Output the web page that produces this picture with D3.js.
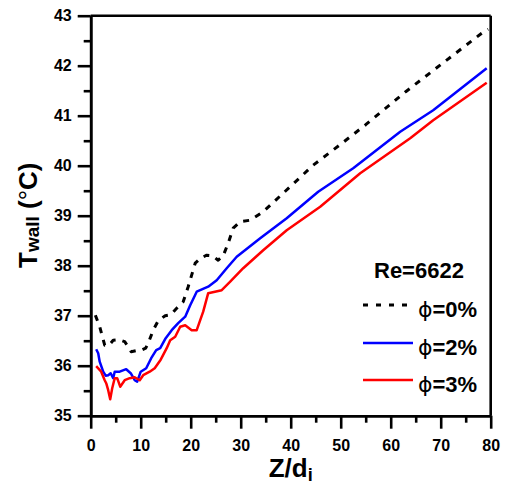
<!DOCTYPE html>
<html>
<head>
<meta charset="utf-8">
<script src="https://cdn.jsdelivr.net/npm/d3@7"></script>
<style>
  body { margin: 0; background: #fff; }
  svg { display: block; }
  text { font-family: "Liberation Sans", Arial, sans-serif; font-weight: bold; fill: #000; }
</style>
</head>
<body>
<svg width="506" height="485"></svg>
<script>
// values
const xTicks = [0, 10, 20, 30, 40, 50, 60, 70, 80];
const yTicks = [35, 36, 37, 38, 39, 40, 41, 42, 43];

const z0 = [0.93, 1.8, 2.8, 3.6, 4.5, 5.7, 6.8, 7.5, 8.1, 9.0, 10.1, 11.0, 11.5, 12.5, 13.5, 14.9, 16.0, 17.2, 18.5, 19.5, 20.9, 22.0, 23.2, 24.3, 25.5, 26.5, 27.5, 28.5, 29.9, 31.9, 34.5, 38.5, 44.5, 50, 55, 63, 70, 78.2, 79.5];
const t0 = [37.01, 36.78, 36.41, 36.40, 36.51, 36.52, 36.48, 36.38, 36.28, 36.30, 36.31, 36.35, 36.45, 36.71, 36.90, 37.00, 37.02, 37.15, 37.28, 37.58, 38.05, 38.15, 38.21, 38.20, 38.11, 38.20, 38.45, 38.75, 38.88, 38.91, 39.08, 39.45, 40.01, 40.43, 40.82, 41.48, 42.02, 42.65, 42.73];

const z2 = [1.1, 1.5, 1.8, 2.5, 3.0, 3.5, 4.0, 4.5, 4.8, 5.8, 7.1, 8.0, 8.8, 9.3, 10.0, 11.1, 12.1, 13.1, 13.9, 15.0, 16.2, 17.5, 18.9, 19.9, 21.2, 23.5, 25.2, 27.2, 29.2, 33.9, 39.2, 45.5, 52.5, 61.9, 68.5, 79.2];
const t2 = [36.33, 36.25, 36.08, 35.88, 35.80, 35.81, 35.85, 35.75, 35.88, 35.88, 35.93, 35.85, 35.71, 35.68, 35.88, 35.95, 36.15, 36.31, 36.35, 36.55, 36.71, 36.85, 36.98, 37.21, 37.48, 37.58, 37.71, 37.95, 38.18, 38.55, 38.95, 39.48, 39.95, 40.68, 41.11, 41.95];

const z3 = [1.1, 2.1, 2.8, 3.1, 3.5, 3.9, 4.3, 4.8, 5.3, 5.9, 6.8, 7.8, 8.8, 9.8, 10.5, 11.8, 12.8, 14.0, 15.2, 15.9, 16.9, 17.9, 18.9, 20.2, 21.2, 22.5, 23.5, 26.2, 27.9, 30.5, 34.5, 39.2, 45.9, 53.9, 63.9, 68.5, 79.2];
const t3 = [35.99, 35.88, 35.71, 35.65, 35.51, 35.33, 35.55, 35.75, 35.75, 35.58, 35.71, 35.75, 35.77, 35.71, 35.81, 35.88, 35.95, 36.12, 36.35, 36.51, 36.58, 36.78, 36.81, 36.71, 36.71, 37.08, 37.45, 37.51, 37.68, 37.95, 38.31, 38.71, 39.18, 39.85, 40.55, 40.91, 41.66];

const seriesNames = ["0%", "2%", "3%"];
const reLabel = "Re=6622";

const svg = d3.select("svg");
const plotLeft = 90.7, plotRight = 490.7, plotTop = 15.7, plotBottom = 415.7;

const x = d3.scaleLinear().domain([0, 80]).range([plotLeft, plotRight]);
const y = d3.scaleLinear().domain([35, 43]).range([plotBottom, plotTop]);

// axes
const xAxis = svg.append("g")
    .attr("transform", `translate(0,${plotBottom})`)
    .call(d3.axisBottom(x).tickValues(xTicks).tickSize(13).tickSizeOuter(0).tickPadding(11));
const xMinor = svg.append("g")
    .attr("transform", `translate(0,${plotBottom})`)
    .call(d3.axisBottom(x).tickValues(d3.range(5, 80, 10)).tickSize(7).tickSizeOuter(0).tickFormat(""));
const yAxis = svg.append("g")
    .attr("transform", `translate(${plotLeft},0)`)
    .call(d3.axisLeft(y).tickValues(yTicks).tickSize(13).tickSizeOuter(0).tickPadding(6));
const yMinor = svg.append("g")
    .attr("transform", `translate(${plotLeft},0)`)
    .call(d3.axisLeft(y).tickValues(d3.range(35.5, 43, 1)).tickSize(7).tickSizeOuter(0).tickFormat(""));

[xAxis, xMinor, yAxis, yMinor].forEach(g => {
    g.selectAll("path, line").attr("stroke", "#000").attr("stroke-width", 2.6);
    g.selectAll("text").style("font-size", "16px").attr("fill", "#000");
});

// frame top and right
svg.append("line").attr("x1", plotLeft).attr("x2", plotRight).attr("y1", plotTop).attr("y2", plotTop)
    .attr("stroke", "#000").attr("stroke-width", 2.6);
svg.append("line").attr("x1", plotRight).attr("x2", plotRight).attr("y1", plotTop).attr("y2", plotBottom)
    .attr("stroke", "#000").attr("stroke-width", 2.6);

// lines
const line = d3.line().x(d => x(d[0])).y(d => y(d[1]));
const series = [
    { pts: d3.zip(z0, t0), color: "#000", dash: "6,7", width: 3 },
    { pts: d3.zip(z2, t2), color: "#0000ff", dash: null, width: 2.5 },
    { pts: d3.zip(z3, t3), color: "#ff0000", dash: null, width: 2.5 }
];
series.forEach(s => {
    svg.append("path")
        .attr("d", line(s.pts))
        .attr("fill", "none")
        .attr("stroke", s.color)
        .attr("stroke-width", s.width)
        .attr("stroke-dasharray", s.dash)
        .attr("stroke-linejoin", "round");
});

// legend
svg.append("text").attr("x", 374).attr("y", 278).style("font-size", "22px").text(reLabel);
const legendY = [305, 343, 380];
series.forEach((s, i) => {
    svg.append("line")
        .attr("x1", 363).attr("x2", 413)
        .attr("y1", legendY[i]).attr("y2", legendY[i])
        .attr("stroke", s.color)
        .attr("stroke-width", s.width)
        .attr("stroke-dasharray", s.dash ? "5,8" : null);
    const t = svg.append("text").attr("x", 418).attr("y", legendY[i] + 12).style("font-size", "22px");
    t.append("tspan").style("font-family", "'DejaVu Sans', sans-serif").style("font-weight", "normal").text("\u03D5");
    t.append("tspan").text("=" + seriesNames[i]);
});

// axis titles
const xt = svg.append("text").attr("x", (plotLeft + plotRight) / 2).attr("y", 477)
    .attr("text-anchor", "middle").style("font-size", "26px");
xt.append("tspan").text("Z/d");
xt.append("tspan").attr("dy", 4).style("font-size", "18px").text("i");

const yt = svg.append("text").attr("transform", "translate(37,268) rotate(-90)")
    .style("font-size", "26px");
yt.append("tspan").text("T");
yt.append("tspan").attr("dy", 2).style("font-size", "19px").text("wall");
yt.append("tspan").attr("dy", -2).text(" (");
yt.append("tspan").style("font-weight", "normal").text("\u00B0");
yt.append("tspan").text("C)");
</script>
</body>
</html>
